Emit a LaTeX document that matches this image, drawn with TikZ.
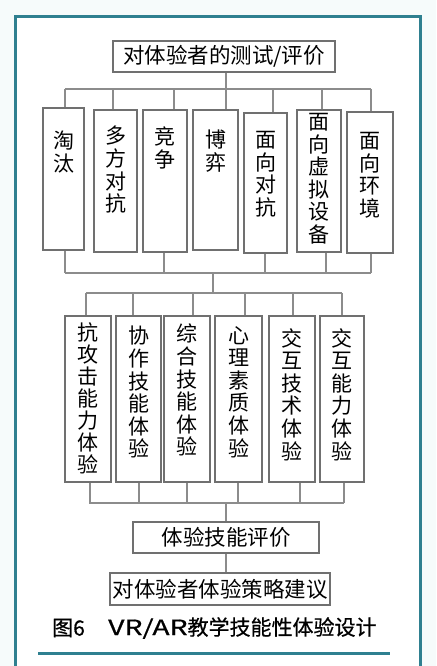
\documentclass[tikz,border=0pt]{standalone}
\usepackage{fontspec}
\newfontfamily\cjk{Noto Sans CJK SC}
\newfontfamily\cjkcap[FakeBold=0.6]{Noto Sans CJK SC}
\definecolor{teal1}{RGB}{47,128,144}
\definecolor{bxc}{RGB}{112,112,112}
\definecolor{lnc}{RGB}{140,140,140}
\definecolor{bgc}{RGB}{246,251,251}
\tikzset{
  bx/.style={draw=bxc, line width=1.7pt, fill=white, inner sep=0pt},
  vt/.style={anchor=north, inner sep=0pt, align=center, font=\cjk\fontsize{21}{22.6}\selectfont},
  ht/.style={inner sep=0pt, font=\cjk\fontsize{21.5}{24}\selectfont},
  ln/.style={draw=lnc, line width=1.8pt},
  captext/.style={inner sep=0pt, anchor=west, font=\cjkcap\fontsize{21}{24}\selectfont},
}
\begin{document}
\begin{tikzpicture}[x=1pt,y=-1pt]
\useasboundingbox (0,0) rectangle (436,666);
\fill[bgc] (0,0) rectangle (436,666);
\fill[white] (15,17) rectangle (420,666);
\draw[teal1, line width=3pt] (15,667) -- (15,17) -- (420,17) -- (420,667);

% top box
\node[bx, minimum width=222, minimum height=31] (top) at (224,56.5) {};
\node[ht] (toptx) at (top.center) {对体验者的测试/评价};

% row 1 boxes
\node[bx, minimum width=41, minimum height=142] (b1) at (63.5,179) {};
\node[bx, minimum width=43, minimum height=142] (b2) at (115.5,181) {};
\node[bx, minimum width=44, minimum height=142] (b3) at (165,181) {};
\node[bx, minimum width=45, minimum height=140] (b4) at (215.5,180) {};
\node[bx, minimum width=43, minimum height=140] (b5) at (265.5,183) {};
\node[bx, minimum width=44, minimum height=142] (b6) at (319,181) {};
\node[bx, minimum width=46, minimum height=141] (b7) at (370,182.5) {};

\node[vt] (t1) at (63.5,131) {淘\\汰};
\node[vt] (t2) at (115.5,126) {多\\方\\对\\抗};
\node[vt] (t3) at (165,127) {竞\\争};
\node[vt] (t4) at (215.5,130) {博\\弈};
\node[vt] (t5) at (265.5,131) {面\\向\\对\\抗};
\node[vt] (t6) at (319,113) {面\\向\\虚\\拟\\设\\备};
\node[vt] (t7) at (370,132) {面\\向\\环\\境};

% top bus
\coordinate (ua) at (65,89);
\coordinate (ub) at (371,89);
\coordinate (uc) at (226,89);
\draw[ln] (top.south -| uc) -- (uc);
\draw[ln] (ua) -- (ub);
\foreach \n/\x in {1/65,2/113,3/174,4/226,5/273,6/322,7/371}{
  \coordinate (u\n) at (\x,89);
  \draw[ln] (u\n) -- (u\n |- b\n.north);
}

% row 1 bottom bus
\coordinate (la) at (65,273);
\coordinate (lb) at (371,273);
\draw[ln] (la) -- (lb);
\foreach \n/\x in {1/65,3/164,5/265,6/326,7/371}{
  \coordinate (l\n) at (\x,273);
  \draw[ln] (l\n |- b\n.south) -- (l\n);
}
\coordinate (lc) at (213,273);
\coordinate (mc) at (213,293);
\draw[ln] (lc) -- (mc);

% row 2 boxes
\node[bx, minimum width=46, minimum height=166] (c1) at (88,399) {};
\node[bx, minimum width=45, minimum height=166] (c2) at (138.5,399) {};
\node[bx, minimum width=46, minimum height=166] (c3) at (187,399) {};
\node[bx, minimum width=47, minimum height=166] (c4) at (238.5,399) {};
\node[bx, minimum width=46, minimum height=166] (c5) at (292,399) {};
\node[bx, minimum width=44, minimum height=166] (c6) at (342,399) {};

\node[vt, font=\cjk\fontsize{21}{22}\selectfont] (s1) at (88,322) {抗\\攻\\击\\能\\力\\体\\验};
\node[vt] (s2) at (138.5,326) {协\\作\\技\\能\\体\\验};
\node[vt] (s3) at (187,324) {综\\合\\技\\能\\体\\验};
\node[vt] (s4) at (238.5,326) {心\\理\\素\\质\\体\\验};
\node[vt] (s5) at (292,328) {交\\互\\技\\术\\体\\验};
\node[vt] (s6) at (342,328) {交\\互\\能\\力\\体\\验};

% row 2 top bus
\coordinate (ma) at (86,293);
\coordinate (mb) at (342,293);
\draw[ln] (ma) -- (mb);
\foreach \n/\x in {1/86,2/133,3/193,4/245,5/293,6/342}{
  \coordinate (m\n) at (\x,293);
  \draw[ln] (m\n) -- (m\n |- c\n.north);
}

% row 2 bottom bus
\coordinate (na) at (89,503);
\coordinate (nb) at (344,503);
\draw[ln] (na) -- (nb);
\foreach \n/\x in {1/90,2/139,3/187,4/238,5/300,6/344}{
  \coordinate (n\n) at (\x,503);
  \draw[ln] (n\n |- c\n.south) -- (n\n);
}
\coordinate (nc) at (226,503);

% bottom boxes
\node[bx, minimum width=186, minimum height=31] (ev) at (226,537.5) {};
\node[ht] (evtx) at (ev.center) {体验技能评价};
\node[bx, minimum width=220, minimum height=32] (sg) at (220,589) {};
\node[ht] (sgtx) at (sg.center) {对体验者体验策略建议};
\draw[ln] (nc) -- (nc |- ev.north);
\draw[ln] (ev.south -| nc) -- (sg.north -| nc);

% caption
\node[captext] (cap1) at (52,628) {图6};
\node[captext] (cap2) at (108,628) {\scalebox{1.35}[1]{VR/AR}教学技能性体验设计};

% bottom rule
\draw[teal1, line width=3pt] (38,653) -- (390,653);
\end{tikzpicture}
\end{document}
